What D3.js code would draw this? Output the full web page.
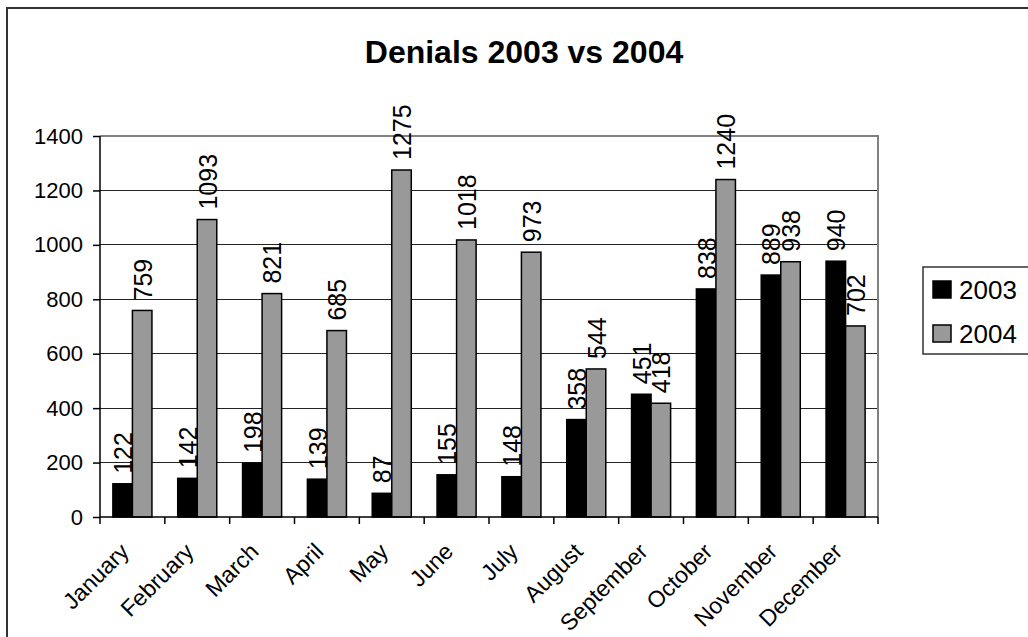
<!DOCTYPE html>
<html>
<head>
<meta charset="utf-8">
<script src="https://cdn.jsdelivr.net/npm/d3@7"></script>
<style>
  html, body { margin: 0; padding: 0; background: #fff; }
  svg { display: block; font-family: "Liberation Sans", Arial, sans-serif; }
</style>
</head>
<body>
<svg id="chart" width="1028" height="637"></svg>
<script>
const months = ["January","February","March","April","May","June","July","August","September","October","November","December"];
const seriesNames = ["2003","2004"];
const values2003 = [122,142,198,139,87,155,148,358,451,838,889,940];
const values2004 = [759,1093,821,685,1275,1018,973,544,418,1240,938,702];
const yTicks = [0,200,400,600,800,1000,1200,1400];
const seriesColors = ["#000000","#999999"];
const chartTitle = "Denials 2003 vs 2004";

const svg = d3.select("#chart");
const L = 100, R = 878, T = 136, B = 517;

// outer chart border
svg.append("rect").attr("x", 7).attr("y", 8).attr("width", 1100).attr("height", 700)
  .attr("fill", "none").attr("stroke", "#333").attr("stroke-width", 2);

const y = d3.scaleLinear().domain([0, 1400]).range([B, T]);
const x0 = d3.scaleBand().domain(months).range([L, R]).padding(0);
const x1 = d3.scaleBand().domain(seriesNames).range([0, x0.bandwidth()]).paddingInner(0).paddingOuter(0.66);

// gridlines
svg.append("g").selectAll("line").data(yTicks.filter(t => t > 0 && t < 1400)).join("line")
  .attr("x1", L).attr("x2", R).attr("y1", d => y(d)).attr("y2", d => y(d))
  .attr("stroke", "#222").attr("stroke-width", 1).attr("shape-rendering", "crispEdges");

// plot area top & right (gray)
svg.append("path").attr("d", `M${L},${y(1400)}H${R}V${B}`)
  .attr("fill", "none").attr("stroke", "#808080").attr("stroke-width", 2);

// bars
const data = months.map((m, i) => ({ month: m, vals: [values2003[i], values2004[i]] }));
const groups = svg.append("g").selectAll("g").data(data).join("g")
  .attr("transform", d => `translate(${x0(d.month)},0)`);
groups.selectAll("rect").data(d => d.vals.map((v, j) => ({ s: seriesNames[j], v, j }))).join("rect")
  .attr("x", d => x1(d.s)).attr("width", x1.bandwidth())
  .attr("y", d => y(d.v)).attr("height", d => B - y(d.v))
  .attr("fill", d => seriesColors[d.j]).attr("stroke", "#000").attr("stroke-width", 1.5);

// data labels
groups.selectAll("text").data(d => d.vals.map((v, j) => ({ s: seriesNames[j], v, j }))).join("text")
  .attr("transform", d => `translate(${x1(d.s) + x1.bandwidth() / 2 + 9.5},${y(d.v) - 10}) rotate(-90)`)
  .attr("text-anchor", "start").attr("font-size", 25).attr("fill", "#000")
  .text(d => d.v);

// y axis
const yAxis = d3.axisLeft(y).tickValues(yTicks).tickSize(7).tickPadding(10).tickFormat(d3.format("d"));
const gy = svg.append("g").attr("transform", `translate(${L},0)`).call(yAxis);
gy.select(".domain").attr("stroke", "#000").attr("stroke-width", 1.5).attr("d", `M0,${T}V${B}`);
gy.selectAll(".tick line").attr("stroke", "#000").attr("stroke-width", 1.5);
gy.selectAll(".tick text").attr("font-size", 22).attr("fill", "#000").attr("font-family", "Liberation Sans, Arial, sans-serif");

// x axis
const xTickScale = d3.scaleLinear().domain([0, months.length]).range([L, R]);
const gx = svg.append("g").attr("transform", `translate(0,${B})`);
gx.append("line").attr("x1", L).attr("x2", R).attr("y1", 0).attr("y2", 0).attr("stroke", "#000").attr("stroke-width", 1.5);
gx.selectAll("line.tk").data(d3.range(months.length + 1)).join("line").attr("class", "tk")
  .attr("x1", d => xTickScale(d)).attr("x2", d => xTickScale(d)).attr("y1", 0).attr("y2", 7)
  .attr("stroke", "#000").attr("stroke-width", 1.5);
gx.selectAll("text").data(months).join("text")
  .attr("transform", d => `translate(${x0(d) + x0.bandwidth() / 2 - 2},${36}) rotate(-45)`)
  .attr("text-anchor", "end").attr("font-size", 23).attr("fill", "#000")
  .text(d => d);

// title
svg.append("text").attr("x", 524).attr("y", 63).attr("text-anchor", "middle")
  .attr("font-size", 32).attr("font-weight", "bold").attr("fill", "#000").text(chartTitle);

// legend
const lg = svg.append("g");
lg.append("rect").attr("x", 923).attr("y", 267).attr("width", 200).attr("height", 87)
  .attr("fill", "#fff").attr("stroke", "#333").attr("stroke-width", 1.5);
const rows = lg.selectAll("g").data(seriesNames).join("g")
  .attr("transform", (d, i) => `translate(0,${i * 44})`);
rows.append("rect").attr("x", 933).attr("y", 281).attr("width", 18).attr("height", 17)
  .attr("fill", (d, i) => seriesColors[i]).attr("stroke", "#000").attr("stroke-width", 1.5);
rows.append("text").attr("x", 959).attr("y", 299).attr("font-size", 26).attr("fill", "#000").text(d => d);
</script>
</body>
</html>
